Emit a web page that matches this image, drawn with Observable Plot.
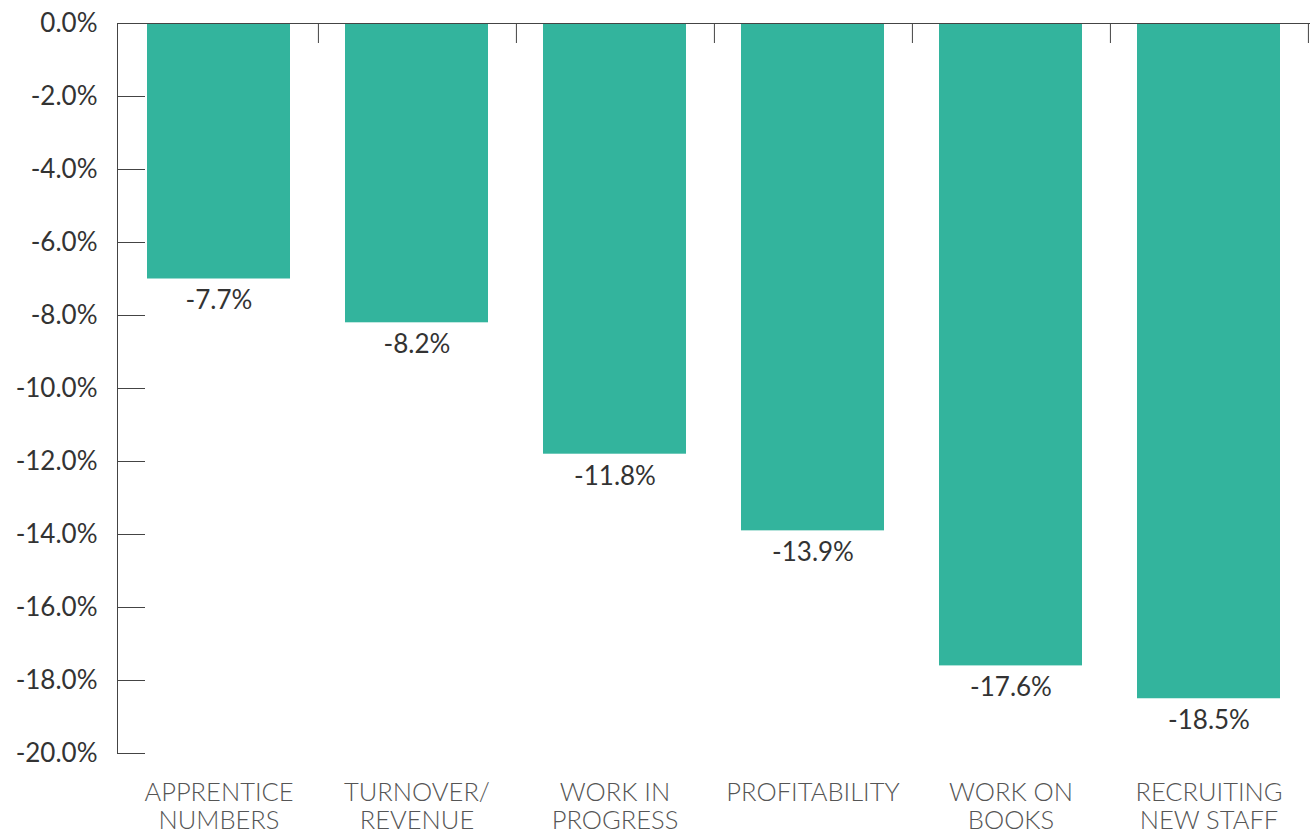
<!DOCTYPE html>
<html><head><meta charset="utf-8">
<script src="https://cdn.jsdelivr.net/npm/d3@7"></script>
<script src="https://cdn.jsdelivr.net/npm/@observablehq/plot@0.6"></script>
<style>body{margin:0;background:#fff;}</style>
</head><body><div id="chart"></div>
<script>
const categories = ["APPRENTICE\nNUMBERS", "TURNOVER/\nREVENUE", "WORK IN\nPROGRESS", "PROFITABILITY", "WORK ON\nBOOKS", "RECRUITING\nNEW STAFF"];
const values = [-7.0, -8.2, -11.8, -13.9, -17.6, -18.5];
const valueLabels = ["-7.7%", "-8.2%", "-11.8%", "-13.9%", "-17.6%", "-18.5%"];
const yTicks = [0, -2, -4, -6, -8, -10, -12, -14, -16, -18, -20];

const data = categories.map((c, i) => ({category: c, value: values[i], label: valueLabels[i]}));

const W = 1314, H = 836, ML = 117, MR = 4, MT = 23, MB = 83;
const step = (W - ML - MR) / categories.length;
const barColor = "#33B49D";
const fmt = d => (d < 0 ? "-" : "") + Math.abs(d).toFixed(1) + "%";

const chart = Plot.plot({
  width: W, height: H,
  marginLeft: ML, marginRight: MR, marginTop: MT, marginBottom: MB,
  style: {fontFamily: "Lato, 'Open Sans', sans-serif", background: "#fff"},
  x: {domain: categories, paddingInner: 0.28, paddingOuter: 0.14},
  y: {domain: [-20, 0]},
  marks: [
    Plot.barY(data, {x: "category", y: "value", fill: barColor}),
    Plot.text(data, {x: "category", y: "value", text: "label", dy: 22, lineAnchor: "middle", fontSize: 26, fill: "#333"}),
    Plot.ruleY([0], {stroke: "#444", strokeWidth: 1}),
    Plot.frame({anchor: "left", stroke: "#444"}),
    Plot.axisY({ticks: yTicks, tickSize: 0, tickPadding: 20, tickFormat: fmt, fontSize: 26, fill: "#333", label: null}),
    Plot.axisY({ticks: yTicks, tickSize: 28, dx: 28, text: null, stroke: "#444", label: null}),
    Plot.axisX({anchor: "top", tickSize: 19, dy: 19, dx: step / 2, text: null, stroke: "#444", label: null}),
    Plot.axisX({anchor: "bottom", tickSize: 0, tickPadding: 27, fontSize: 25.5, fontWeight: 300, fill: "#555", lineHeight: 1.12, lineAnchor: "top", label: null})
  ]
});
document.getElementById("chart").appendChild(chart);
</script>
</body></html>
